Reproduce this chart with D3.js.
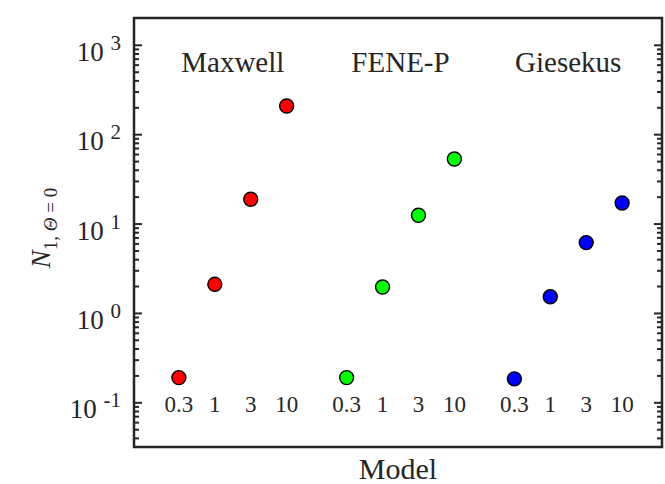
<!DOCTYPE html>
<meta charset="utf-8">
<script src="https://d3js.org/d3.v7.min.js"></script>
<div id="chart"></div>
<script>
// data
var groups = ["Maxwell", "FENE-P", "Giesekus"];
var wiLabels = ["0.3", "1", "3", "10"];
var maxwell = [0.189, 2.09, 18.7, 207];
var feneP = [0.189, 1.95, 12.4, 52.8];
var giesekus = [0.183, 1.52, 6.12, 17.0];
var colors = ["#ff0000", "#00ff00", "#0000ff"];
var yExponents = [-1, 0, 1, 2, 3];

var series = [maxwell, feneP, giesekus];

d3.select("body").style("margin", "0px");

var width = 665, height = 484;
var box = {left: 134, right: 662, top: 18, bottom: 447};

var svg = d3.select("#chart").append("svg")
    .attr("width", width)
    .attr("height", height)
    .style("display", "block");

// x: position index inside the axes, groups separated by a wider gap
var x = d3.scaleLinear().domain([0, 14.7]).range([box.left, box.right]);
var pos = function(g, i) { return 1.25 + g * 4.67 + i; };

var y = d3.scaleLog()
    .domain([Math.pow(10, -1.5), Math.pow(10, 3.3)])
    .range([box.bottom, box.top]);

// minor ticks
var minor = [];
for (var e = -2; e <= 3; e++) {
  for (var m = 2; m <= 9; m++) {
    var v = m * Math.pow(10, e);
    if (v >= y.domain()[0] && v <= y.domain()[1]) minor.push(v);
  }
}
var majors = yExponents.map(function(e) { return Math.pow(10, e); });

function tickAxis(axisFn, xPos, vals, size) {
  var g = svg.append("g")
      .attr("transform", "translate(" + xPos + ",0)")
      .call(axisFn(y).tickValues(vals).tickSize(size).tickFormat(""));
  g.select(".domain").remove();
  g.selectAll("line").attr("stroke", "#262626").attr("stroke-width", 2);
}
tickAxis(d3.axisLeft, box.left, majors, -8);
tickAxis(d3.axisLeft, box.left, minor, -5);
tickAxis(d3.axisRight, box.right, majors, -8);
tickAxis(d3.axisRight, box.right, minor, -5);

// frame
svg.append("rect")
    .attr("x", box.left)
    .attr("y", box.top)
    .attr("width", box.right - box.left)
    .attr("height", box.bottom - box.top)
    .attr("fill", "none")
    .attr("stroke", "#262626")
    .attr("stroke-width", 2.5);

function label(xp, yp, size, anchor) {
  return svg.append("text")
      .attr("x", xp)
      .attr("y", yp)
      .attr("text-anchor", anchor)
      .attr("fill", "#262626")
      .attr("font-family", "Liberation Serif")
      .style("font-family", "'Liberation Serif'")
      .style("font-size", size + "px");
}

// y tick labels 10^n
yExponents.forEach(function(e) {
  var t = label(121, y(Math.pow(10, e)) + 16, 27, "end");
  t.append("tspan").text("10 ");
  t.append("tspan")
      .attr("dy", -11)
      .style("font-size", "21px")
      .text(e < 0 ? "-" + (-e) : e);
});

// group names
groups.forEach(function(name, g) {
  label((x(pos(g, 0)) + x(pos(g, 3))) / 2, 72, 29, "middle").text(name);
});

// Wi labels inside the axes
groups.forEach(function(name, g) {
  wiLabels.forEach(function(d, i) {
    label(x(pos(g, i)), 412, 23, "middle").text(d);
  });
});

// points
series.forEach(function(vals, g) {
  svg.selectAll(null)
      .data(vals)
      .enter()
      .append("circle")
      .attr("cx", function(d, i) { return x(pos(g, i)); })
      .attr("cy", function(d) { return y(d); })
      .attr("r", 7)
      .attr("fill", colors[g])
      .attr("stroke", "black")
      .attr("stroke-width", 1.4);
});

// axis titles
label((box.left + box.right) / 2, 479, 30, "middle").text("Model");

var yl = label(0, 0, 27, "middle")
    .attr("transform", "translate(50,228) rotate(-90)");
yl.append("tspan").style("font-style", "italic").text("N");
var sub = yl.append("tspan").attr("dy", 7).style("font-size", "19px");
sub.append("tspan").text("1, ");
sub.append("tspan").style("font-style", "italic").text("Θ");
sub.append("tspan").text(" = 0");
</script>
